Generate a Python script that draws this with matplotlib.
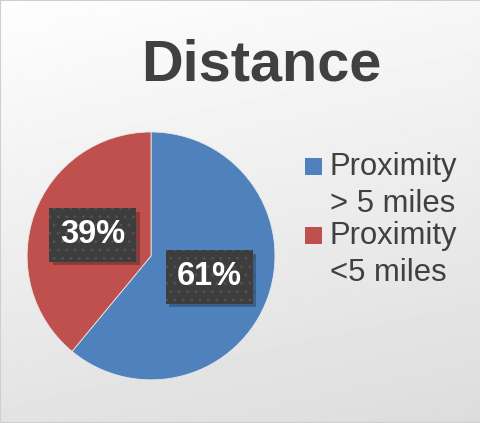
import numpy as np
import matplotlib
matplotlib.use("Agg")
import matplotlib.pyplot as plt
import matplotlib.patheffects as pe
from matplotlib.patches import Rectangle

plt.rcParams["font.family"] = ["Liberation Sans", "DejaVu Sans"]
plt.rcParams["hatch.linewidth"] = 0.8

# data
title = "Distance"
labels = ["Proximity\n> 5 miles", "Proximity\n<5 miles"]
shares = [61, 39]
colors = ["#4f81bd", "#c0504d"]

W, H = 481, 423
fig = plt.figure(figsize=(W / 100, H / 100), dpi=100)

# gradient background like the Office chart area
bg = fig.add_axes([0, 0, 1, 1], zorder=-10)
yy, xx = np.mgrid[0:1:200j, 0:1:200j]
grad = 0.995 - 0.13 * (0.8 * yy + 0.2 * xx)
bg.imshow(grad, cmap="gray", vmin=0, vmax=1, aspect="auto", extent=[0, 1, 0, 1], origin="upper")
bg.set_xlim(0, 1)
bg.set_ylim(0, 1)
bg.axis("off")
fig.patches.append(Rectangle((0, 0), 1, 1, transform=fig.transFigure,
                             fill=False, ec="#cfcfcf", lw=1.5))

ax = fig.add_axes([0.056, 0.102, 0.516, 0.586])
wedges, _, autotexts = ax.pie(
    shares, colors=colors, startangle=90, counterclock=False,
    autopct="%d%%", pctdistance=0.5,
    wedgeprops=dict(edgecolor="#e8e8e8", linewidth=0.6),
    textprops=dict(color="white", fontsize=23.5, fontweight="bold"),
)
ax.set_xlim(-1, 1)
ax.set_ylim(-1, 1)
ax.set_aspect("equal")

for t in autotexts:
    t.set_bbox(dict(boxstyle="square,pad=0.34", fc="#3d3d3d", ec="#525252",
                    lw=0, hatch=".."))
    t.get_bbox_patch().set_path_effects([
        pe.SimplePatchShadow(offset=(2.5, -2.5), shadow_rgbFace="#000000", alpha=0.25),
        pe.Normal(),
    ])

fig.text(0.544, 1 - 80 / H, title, ha="center", va="baseline",
         fontsize=41.5, fontweight="bold", color="#404040")

# legend drawn by hand: square beside first line of each two-line label
leg_x, sq, top, step, line = 305, 17, 158, 69, 37
for i, (lab, col) in enumerate(zip(labels, colors)):
    y0 = top + i * step
    fig.add_artist(Rectangle((leg_x / W, 1 - (y0 + sq) / H), sq / W, sq / H,
                             transform=fig.transFigure, fc=col, ec="none"))
    for j, part in enumerate(lab.split("\n")):
        fig.text(330 / W, 1 - (y0 + 17 + j * line) / H, part, ha="left",
                 va="baseline", fontsize=22.3, color="#404040")

fig.savefig("out.png", dpi=100)
